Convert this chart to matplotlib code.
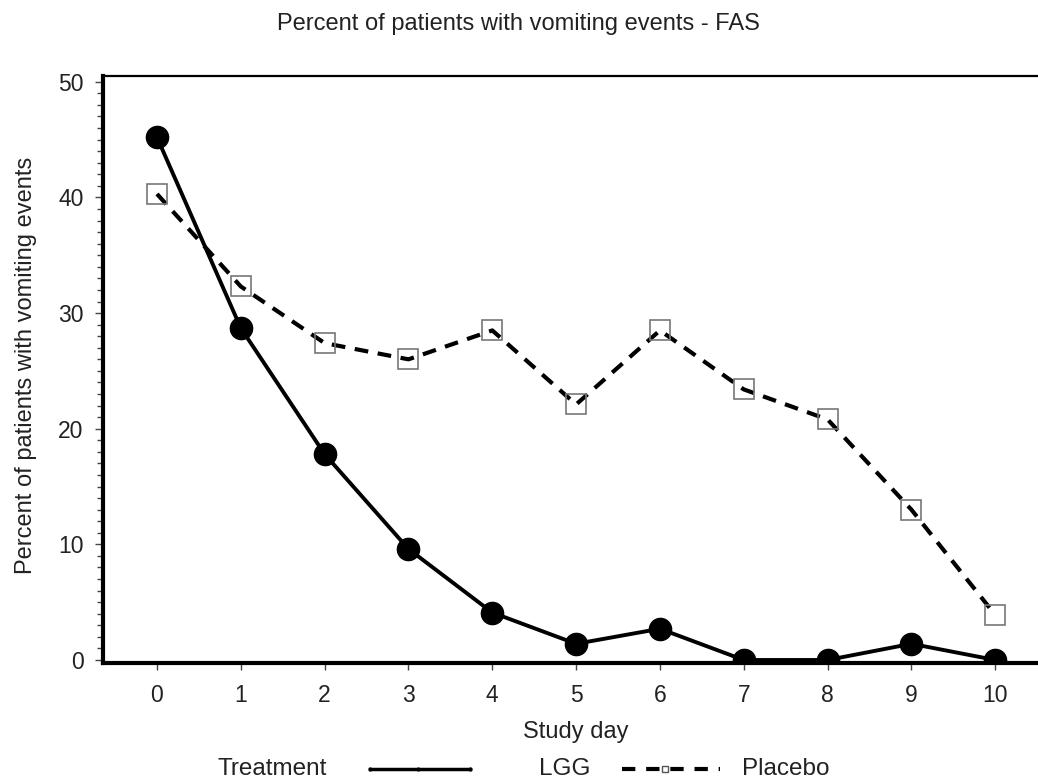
import matplotlib
matplotlib.use("Agg")
import matplotlib.pyplot as plt
from matplotlib.lines import Line2D
from matplotlib.ticker import MultipleLocator

plt.rcParams['font.family'] = ['Liberation Sans', 'DejaVu Sans']

days = [0, 1, 2, 3, 4, 5, 6, 7, 8, 9, 10]
lgg = [45.2, 28.7, 17.8, 9.6, 4.1, 1.4, 2.7, 0.0, 0.0, 1.4, 0.0]
placebo = [40.3, 32.3, 27.4, 26.0, 28.5, 22.1, 28.5, 23.4, 20.8, 13.0, 3.9]
title = "Percent of patients with vomiting events - FAS"
xlabel = "Study day"
ylabel = "Percent of patients with vomiting events"
legend_title = "Treatment"
series_names = ["LGG", "Placebo"]

fig = plt.figure(figsize=(10.38, 7.8), dpi=100)
ax = fig.add_axes([103/1038, 1-663/780, 1-103/1038, (663-76)/780])

ax.plot(days, placebo, color='black', lw=3.0, ls=(0, (3.3, 2.3)), zorder=2)
ax.plot(days, placebo, ls='none', marker='s', ms=15, mfc='none', mec='#777777', mew=1.2, zorder=3)
ax.plot(days, lgg, color='black', lw=2.8, marker='o', ms=16, zorder=4)

ax.set_xlim(-0.644, 10.51)
ax.set_ylim(-0.26, 50.5)
ax.set_xticks(days)
ax.set_yticks([0, 10, 20, 30, 40, 50])
ax.yaxis.set_minor_locator(MultipleLocator(1))
ax.tick_params(axis='y', which='major', length=6, width=1, labelsize=16.5, pad=8, color='#444444', labelcolor='#222222')
ax.tick_params(axis='y', which='minor', length=4, width=1, color='#444444')
ax.tick_params(axis='x', which='major', length=5, width=1, labelsize=16.5, pad=10, color='#444444', labelcolor='#222222')
for s in ['left', 'bottom']:
    ax.spines[s].set_linewidth(3)
ax.spines['top'].set_linewidth(1.6)
ax.spines['right'].set_visible(False)

fig.text(518/1038, 1-24/780, title, ha='center', va='center', fontsize=17, color='#222222')
fig.text(576/1038, 1-732/780, xlabel, ha='center', va='center', fontsize=17, color='#222222')
fig.text(26/1038, 1-365/780, ylabel, ha='center', va='center', rotation=90, fontsize=17, color='#222222')

ly = 1-769/780
fig.text(218/1038, ly, legend_title, ha='left', va='center', fontsize=17.5, color='#222222')
fig.add_artist(Line2D([370/1038, 418/1038, 470/1038], [ly, ly, ly], color='black', lw=2.5,
                      marker='o', ms=2, transform=fig.transFigure))
fig.text(565/1038, ly, series_names[0], ha='center', va='center', fontsize=17.5, color='#222222')
fig.add_artist(Line2D([622/1038, 720/1038], [ly, ly], color='black', lw=3.0, ls=(0, (3.2, 2.6)),
                      transform=fig.transFigure))
fig.add_artist(Line2D([665/1038], [ly], ls='none', marker='s', ms=4, mfc='white', mec='#555555',
                      transform=fig.transFigure))
fig.text(742/1038, ly, series_names[1], ha='left', va='center', fontsize=17.5, color='#222222')

fig.savefig("out.png", dpi=100)
